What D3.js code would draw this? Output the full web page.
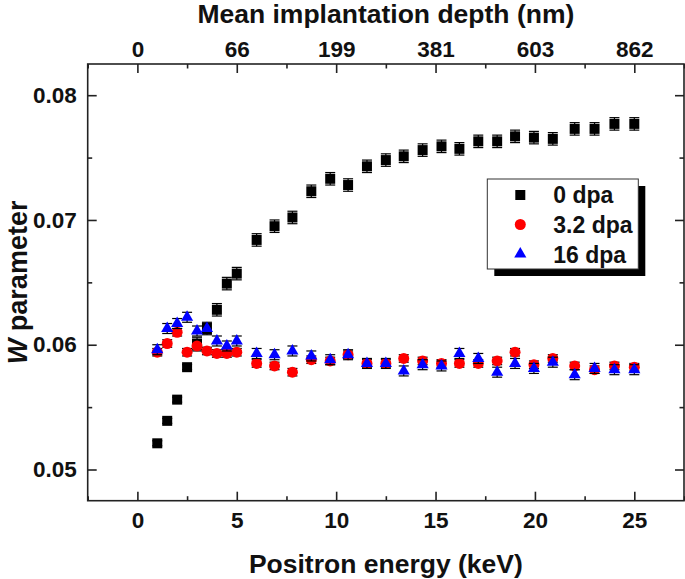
<!DOCTYPE html>
<html>
<head>
<meta charset="utf-8">
<script src="https://cdn.jsdelivr.net/npm/d3@7"></script>
<style>
  body { margin: 0; background: #fff; }
  svg { display: block; font-family: "Liberation Sans", Arial, sans-serif; font-weight: bold; }
  .axis path, .axis line { stroke: #222; stroke-width: 1.6; }
  .axis text { font-size: 22.5px; font-weight: bold; fill: #111; font-family: "Liberation Sans", Arial, sans-serif; }
</style>
</head>
<body>
<svg id="chart" width="685" height="579"></svg>
<script>
// positron energy (keV)
const energy = [1, 1.5, 2, 2.5, 3, 3.5, 4, 4.5, 5,
  6, 6.9, 7.8, 8.75, 9.7, 10.6, 11.55, 12.5, 13.4, 14.35, 15.3,
  16.2, 17.15, 18.1, 19, 19.95, 20.9, 22, 23, 24, 25];

const w0 = [0.0521, 0.0539, 0.0556, 0.0582, 0.0601, 0.0613, 0.0628, 0.0649, 0.0657,
  0.0684, 0.0695, 0.0702, 0.0723, 0.0733, 0.0728, 0.0743, 0.0748, 0.0751, 0.0756, 0.0759,
  0.0757, 0.0763, 0.0763, 0.0767, 0.0766, 0.0765, 0.0773, 0.0773, 0.0777, 0.0777];
const err0 = [0.0002, 0.0002, 0.0002, 0.0002, 0.0005, 0.0005, 0.0005, 0.0005, 0.0005,
  0.0005, 0.0005, 0.0005, 0.0005, 0.0005, 0.0005, 0.0005, 0.0005, 0.0005, 0.0005, 0.0005,
  0.0005, 0.0005, 0.0005, 0.0005, 0.0005, 0.0005, 0.0005, 0.0005, 0.0005, 0.0005];

const w32 = [0.0594, 0.0601, 0.0610, 0.0594, 0.0599, 0.0595, 0.0593, 0.0593, 0.0594,
  0.0585, 0.0583, 0.0578, 0.0588, 0.0587, 0.0592, 0.0585, 0.0585, 0.0589, 0.0587, 0.0585,
  0.0585, 0.0585, 0.0587, 0.0594, 0.0584, 0.0589, 0.0583, 0.0580, 0.0583, 0.0582];
const err32 = [0.0003, 0.0003, 0.0003, 0.0003, 0.0004, 0.0003, 0.0003, 0.0003, 0.0003,
  0.0003, 0.0003, 0.0003, 0.0003, 0.0003, 0.0003, 0.0003, 0.0003, 0.0003, 0.0003, 0.0003,
  0.0003, 0.0003, 0.0003, 0.0003, 0.0003, 0.0003, 0.0003, 0.0003, 0.0003, 0.0003];

const w16 = [0.0596, 0.0613, 0.0617, 0.0622, 0.0611, 0.0613, 0.0603, 0.0599, 0.0603,
  0.0593, 0.0592, 0.0595, 0.0591, 0.0588, 0.0592, 0.0585, 0.0585, 0.0579, 0.0584, 0.0583,
  0.0593, 0.0589, 0.0578, 0.0585, 0.0581, 0.0586, 0.0576, 0.0581, 0.0580, 0.0580];
const err16 = [0.0004, 0.0004, 0.0004, 0.0004, 0.0004, 0.0004, 0.0004, 0.0004, 0.0004,
  0.0004, 0.0004, 0.0004, 0.0004, 0.0004, 0.0004, 0.0004, 0.0004, 0.0004, 0.0004, 0.0004,
  0.0004, 0.0004, 0.0004, 0.0004, 0.0004, 0.0004, 0.0004, 0.0004, 0.0004, 0.0004];

const seriesNames = ["0 dpa", "3.2 dpa", "16 dpa"];
const energyTicks = [0, 5, 10, 15, 20, 25];
const energyMinor = [-2.5, 2.5, 7.5, 12.5, 17.5, 22.5, 27.5];
const depthLabels = ["0", "66", "199", "381", "603", "862"];
const wTicks = [0.05, 0.06, 0.07, 0.08];
const wMinor = [0.055, 0.065, 0.075];

const svg = d3.select("#chart");
const plotL = 87.7, plotR = 684, plotT = 64, plotB = 500.7;

const x = d3.scaleLinear().domain([-2.5, 27.5]).range([plotL, plotR]);
const y = d3.scaleLinear().domain([0.0475, 0.0825]).range([plotB, plotT]);

const series = [
  { name: seriesNames[0], vals: w0, errs: err0, color: "#000000", shape: d3.symbolSquare, size: 100 },
  { name: seriesNames[1], vals: w32, errs: err32, color: "#ff0000", shape: d3.symbolCircle, size: 95 },
  { name: seriesNames[2], vals: w16, errs: err16, color: "#0000ff", shape: d3.symbolTriangle, size: 64 }
];

// frame
svg.append("rect")
  .attr("x", plotL).attr("y", plotT)
  .attr("width", plotR - plotL).attr("height", plotB - plotT)
  .attr("fill", "none").attr("stroke", "#222").attr("stroke-width", 1.6);

// axes: majors with labels, minors without
function addAxis(axis, tr) {
  const g = svg.append("g").attr("class", "axis").attr("transform", tr).call(axis);
  g.select(".domain").remove();
  return g;
}

addAxis(d3.axisBottom(x).tickValues(energyTicks).tickSize(-9).tickPadding(11).tickFormat(d3.format("d")),
  `translate(0,${plotB})`);
addAxis(d3.axisBottom(x).tickValues(energyMinor).tickSize(-4.5).tickFormat(""), `translate(0,${plotB})`);

addAxis(d3.axisTop(x).tickValues(energyTicks).tickSize(-9).tickPadding(7)
  .tickFormat((d, i) => depthLabels[i]), `translate(0,${plotT})`);
addAxis(d3.axisTop(x).tickValues(energyMinor).tickSize(-4.5).tickFormat(""), `translate(0,${plotT})`);

addAxis(d3.axisLeft(y).tickValues(wTicks).tickSize(-9).tickPadding(11).tickFormat(d3.format(".2f")),
  `translate(${plotL},0)`);
addAxis(d3.axisLeft(y).tickValues(wMinor).tickSize(-4.5).tickFormat(""), `translate(${plotL},0)`);

addAxis(d3.axisRight(y).tickValues(wTicks).tickSize(-9).tickFormat(""), `translate(${plotR},0)`);
addAxis(d3.axisRight(y).tickValues(wMinor).tickSize(-4.5).tickFormat(""), `translate(${plotR},0)`);

// data
series.forEach(s => {
  const pts = energy.map((e, i) => ({ e, v: s.vals[i], err: s.errs[i] }));
  const g = svg.append("g");

  const eb = g.selectAll(".eb").data(pts).join("g").attr("stroke", "#000").attr("stroke-width", 1.2);
  eb.append("line")
    .attr("x1", d => x(d.e)).attr("x2", d => x(d.e))
    .attr("y1", d => y(d.v - d.err)).attr("y2", d => y(d.v + d.err));
  eb.append("line")
    .attr("x1", d => x(d.e) - 5).attr("x2", d => x(d.e) + 5)
    .attr("y1", d => y(d.v + d.err)).attr("y2", d => y(d.v + d.err));
  eb.append("line")
    .attr("x1", d => x(d.e) - 5).attr("x2", d => x(d.e) + 5)
    .attr("y1", d => y(d.v - d.err)).attr("y2", d => y(d.v - d.err));

  g.selectAll(".pt").data(pts).join("path")
    .attr("transform", d => `translate(${x(d.e)},${y(d.v)})`)
    .attr("d", d3.symbol().type(s.shape).size(s.size))
    .attr("fill", s.color);
});

// legend
const lg = svg.append("g").attr("transform", "translate(487.3,179)");
lg.append("rect").attr("x", 7).attr("y", 7).attr("width", 151).attr("height", 90).attr("fill", "#000");
lg.append("rect").attr("x", 0).attr("y", 0).attr("width", 151).attr("height", 90)
  .attr("fill", "#fff").attr("stroke", "#333").attr("stroke-width", 1);
series.forEach((s, i) => {
  lg.append("path")
    .attr("transform", `translate(33,${16 + i * 29.5})`)
    .attr("d", d3.symbol().type(s.shape).size(s.size))
    .attr("fill", s.color);
  lg.append("text")
    .attr("x", 66).attr("y", 24 + i * 30)
    .style("font-size", "23px").attr("fill", "#111")
    .text(s.name);
});

// titles
svg.append("text")
  .attr("x", (plotL + plotR) / 2).attr("y", 22.5)
  .attr("text-anchor", "middle").style("font-size", "26.5px").attr("fill", "#111")
  .text("Mean implantation depth (nm)");

svg.append("text")
  .attr("x", (plotL + plotR) / 2).attr("y", 573)
  .attr("text-anchor", "middle").style("font-size", "26.5px").attr("fill", "#111")
  .text("Positron energy (keV)");

const yl = svg.append("text")
  .attr("transform", `translate(27,${(plotT + plotB) / 2}) rotate(-90)`)
  .attr("text-anchor", "middle").style("font-size", "27px").attr("fill", "#111");
yl.append("tspan").style("font-style", "italic").text("W");
yl.append("tspan").text(" parameter");
</script>
</body>
</html>
